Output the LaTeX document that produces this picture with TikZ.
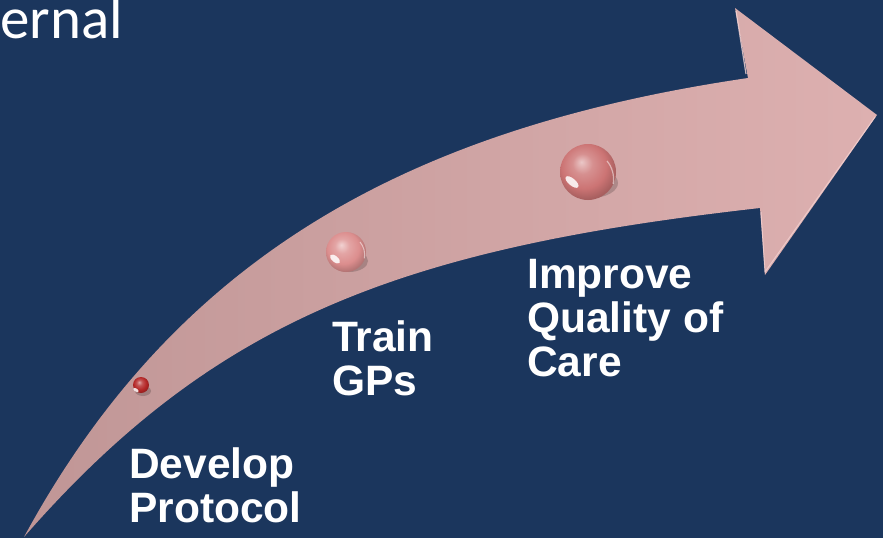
\documentclass[tikz,border=0pt]{standalone}
\usepackage{fontspec}
\setmainfont{Liberation Sans}
\newfontfamily\titlefont{Carlito}
\definecolor{navy}{RGB}{27,54,93}
\definecolor{arrowtail}{RGB}{192,150,150}
\definecolor{arrowhead}{RGB}{221,176,176}
\definecolor{rimlight}{RGB}{246,214,214}
\definecolor{ballbig}{RGB}{204,116,116}
\definecolor{ballmid}{RGB}{220,142,142}
\definecolor{ballsmall}{RGB}{180,38,38}
\colorlet{sphcol}{ballbig}
% soft glossy sphere, lit from the top left, without the black rim of "ball"
\pgfdeclareradialshading[sphcol]{softball}{\pgfpoint{-6bp}{9bp}}{%
  color(0bp)=(sphcol!40!white); color(9bp)=(sphcol!80!white);
  color(20bp)=(sphcol); color(28bp)=(sphcol!82!black);
  color(50bp)=(sphcol!70!black)}
\tikzset{
  label text/.style={anchor=north west, inner sep=0pt, align=left, text=white,
    font=\fontsize{42.5}{44}\selectfont\bfseries},
  sphere/.style={circle, inner sep=0pt, minimum size=#1, shading=softball},
  sphere colour/.code={\colorlet{sphcol}{#1}},
  glint/.style={fill=white, opacity=0.85},
  drop shadow/.style={fill=black, opacity=0.18}
}
\begin{document}
\begin{tikzpicture}[x=1pt,y=-1pt]
  % background
  \fill[navy] (0,0) rectangle (883,538);
  \useasboundingbox (0,0) rectangle (883,538);

  % title fragment
  \node[anchor=base west, inner sep=0pt, text=white,
        font=\titlefont\fontsize{59}{64}\selectfont] (title) at (0,38) {ernal};

  % curved arrow
  \path[left color=arrowtail, right color=arrowhead]
    (24,537) .. controls (176,257) and (408,128) .. (748,78)
    -- (735,8) -- (877,115) -- (765,275) -- (760,208)
    .. controls (400,248.5) and (214,319.5) .. (24,537) -- cycle;
  % bevel light on the arrow head
  \draw[rimlight, line width=1.2pt, opacity=0.8, line join=round]
    (746,74) -- (736,11);
  \draw[rimlight, line width=1pt, opacity=0.7] (761,212) -- (765,272) -- (875,117);

  % spheres with shadows and glints
  \fill[drop shadow] (143,391) ellipse (8 and 5);
  \begin{scope}[sphere colour=ballsmall]
    \node[sphere=16pt] (s1) at (141,385) {};
  \end{scope}
  \fill[glint, rotate around={-35:(136,390)}] (136,390) ellipse (3 and 1.5);

  \fill[drop shadow] (349,261) ellipse (19 and 11);
  \begin{scope}[sphere colour=ballmid]
    \node[sphere=40pt] (s2) at (346,252) {};
  \end{scope}
  \fill[glint, rotate around={-40:(335,259)}] (335,259) ellipse (6 and 3);
  \draw[white, opacity=0.5, line width=1pt] (360,242) arc (-40:10:20);

  \fill[drop shadow] (591,183) ellipse (27 and 15);
  \begin{scope}[sphere colour=ballbig]
    \node[sphere=56pt] (s3) at (588,172) {};
  \end{scope}
  \fill[glint, rotate around={-40:(572,182)}] (572,182) ellipse (8 and 3.5);
  \draw[white, opacity=0.5, line width=1.2pt] (607,161) arc (-40:10:28);

  % step labels
  \node[label text] (develop) at (129,447) {Develop\\Protocol};
  \node[label text] (train) at (332,320) {Train\\GPs};
  \node[label text] (improve) at (527,259) {Improve\\Quality of\\Care};
\end{tikzpicture}
\end{document}
